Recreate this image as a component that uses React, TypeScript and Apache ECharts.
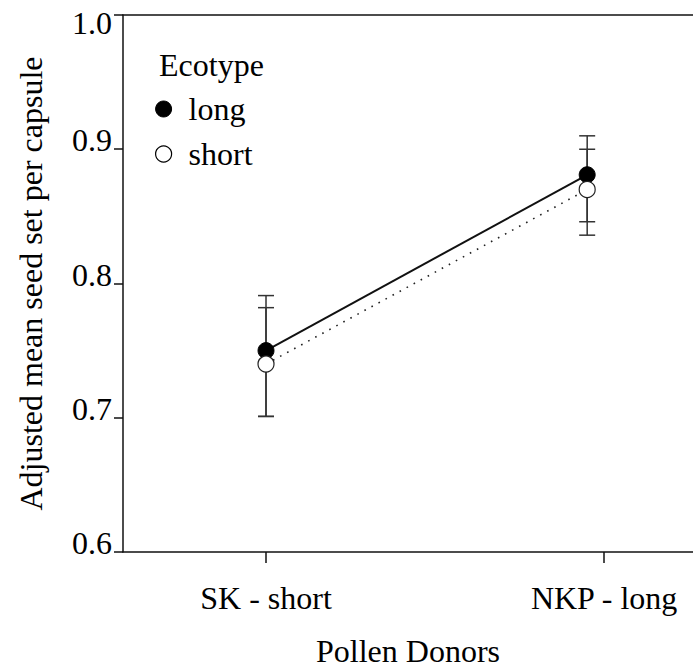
import React, { useEffect, useRef } from "react";
import * as echarts from "echarts";

const donorLabels = ["SK - short", "NKP - long"];
const donorTicks = [1, 2];
const donorX = [1, 1.95];
const longMean = [0.75, 0.881];
const longLow = [0.701, 0.846];
const longHigh = [0.791, 0.91];
const shortMean = [0.74, 0.87];
const shortLow = [0.701, 0.836];
const shortHigh = [0.782, 0.9];
const yTicks = [0.6, 0.7, 0.8, 0.9, 1.0];

const FONT = "'Liberation Serif', 'Times New Roman', serif";
const FS = 32;

export default function App() {
  const ref = useRef<HTMLDivElement>(null);
  useEffect(() => {
    document.body.style.margin = "0";
    if (!ref.current) return;
    const chart = echarts.init(ref.current, null, { renderer: "svg" });

    const errData = (low: number[], high: number[]) =>
      donorX.map((x, i) => [x, low[i], high[i]]);

    const renderErr = (params: any, api: any) => {
      const x = api.value(0);
      const lo = api.coord([x, api.value(1)]);
      const hi = api.coord([x, api.value(2)]);
      const w = 8;
      const st = { stroke: "#333", lineWidth: 1.5 };
      return {
        type: "group",
        children: [
          { type: "line", shape: { x1: lo[0], y1: lo[1], x2: hi[0], y2: hi[1] }, style: st },
          { type: "line", shape: { x1: lo[0] - w, y1: lo[1], x2: lo[0] + w, y2: lo[1] }, style: st },
          { type: "line", shape: { x1: hi[0] - w, y1: hi[1], x2: hi[0] + w, y2: hi[1] }, style: st },
        ],
      };
    };

    const axisCommon = {
      type: "value",
      min: 0.577,
      max: 2.263,
      splitLine: { show: false },
    };

    chart.setOption({
      animation: false,
      backgroundColor: "#fff",
      grid: { left: 123, right: 0, top: 15, bottom: 116, outerBoundsMode: "none", containLabel: false },
      xAxis: [
        {
          ...axisCommon,
          position: "bottom",
          name: "Pollen Donors",
          nameLocation: "middle",
          nameGap: 83,
          nameTextStyle: { fontFamily: FONT, fontSize: FS, color: "#000" },
          axisLine: { show: true, lineStyle: { color: "#111", width: 1.5 } },
          axisTick: {
            show: true,
            customValues: donorTicks,
            length: 11,
            lineStyle: { color: "#111", width: 1.5 },
          },
          axisLabel: {
            show: true,
            customValues: donorTicks,
            margin: 30,
            fontFamily: FONT,
            fontSize: FS,
            color: "#000",
            formatter: (v: number) => {
              const i = donorTicks.indexOf(Math.round(v));
              return i >= 0 ? donorLabels[i] : "";
            },
          },
        },
        {
          ...axisCommon,
          position: "top",
          axisLine: { show: true, lineStyle: { color: "#111", width: 1.5 } },
          axisTick: { show: false },
          axisLabel: { show: false },
        },
      ],
      yAxis: {
        type: "value",
        min: 0.6,
        max: 1.0,
        interval: 0.1,
        name: "Adjusted mean seed set per capsule",
        nameLocation: "middle",
        nameGap: 76,
        nameTextStyle: { fontFamily: FONT, fontSize: FS, color: "#000" },
        splitLine: { show: false },
        axisLine: { show: true, lineStyle: { color: "#111", width: 1.5 } },
        axisTick: { show: true, length: 9, lineStyle: { color: "#111", width: 1.5 } },
        axisLabel: {
          margin: 11,
          fontFamily: FONT,
          fontSize: FS,
          color: "#000",
          verticalAlign: "middle",
          rich: {
            up: { fontFamily: FONT, fontSize: FS, color: "#000", lineHeight: 32, padding: [0, 0, 18, 0] },
            down: { fontFamily: FONT, fontSize: FS, color: "#000", lineHeight: 32, padding: [16, 0, 0, 0] },
          },
          formatter: (v: number) => {
            const t = yTicks.find((y) => Math.abs(y - v) < 1e-6);
            if (t === undefined) return "";
            return t >= 1 ? `{down|${t.toFixed(1)}}` : `{up|${t.toFixed(1)}}`;
          },
        },
      },
      legend: {
        orient: "vertical",
        left: 150,
        top: 88,
        itemWidth: 40,
        itemHeight: 16,
        itemGap: 13,
        selectedMode: false,
        textStyle: { fontFamily: FONT, fontSize: FS, color: "#000", lineHeight: 32 },
        data: [
          { name: "long", icon: "circle", itemStyle: { color: "#000", borderColor: "#000", borderWidth: 1 } },
          { name: "short", icon: "circle", itemStyle: { color: "#fff", borderColor: "#000", borderWidth: 1.2 } },
        ],
      },
      graphic: [
        {
          type: "text",
          left: 159,
          top: 49,
          style: { text: "Ecotype", font: `${FS}px ${FONT}`, fill: "#000" },
        },
      ],
      series: [
        {
          type: "custom",
          name: "longErr",
          renderItem: renderErr,
          data: errData(longLow, longHigh),
          encode: { x: 0, y: [1, 2] },
          z: 1,
          silent: true,
        },
        {
          type: "custom",
          name: "shortErr",
          renderItem: renderErr,
          data: errData(shortLow, shortHigh),
          encode: { x: 0, y: [1, 2] },
          z: 1,
          silent: true,
        },
        {
          type: "line",
          name: "long",
          data: donorX.map((x, i) => [x, longMean[i]]),
          symbol: "circle",
          symbolSize: 16,
          lineStyle: { color: "#111", width: 2 },
          itemStyle: { color: "#000", borderColor: "#000", borderWidth: 1 },
          z: 3,
          silent: true,
        },
        {
          type: "line",
          name: "short",
          data: donorX.map((x, i) => [x, shortMean[i]]),
          symbol: "circle",
          symbolSize: 16,
          lineStyle: { color: "#222", width: 1.6, type: [1.6, 6.4] },
          itemStyle: { color: "#fff", borderColor: "#222", borderWidth: 1.2 },
          z: 4,
          silent: true,
        },
      ],
    });
    return () => chart.dispose();
  }, []);
  return <div ref={ref} style={{ width: 693, height: 668 }} />;
}
